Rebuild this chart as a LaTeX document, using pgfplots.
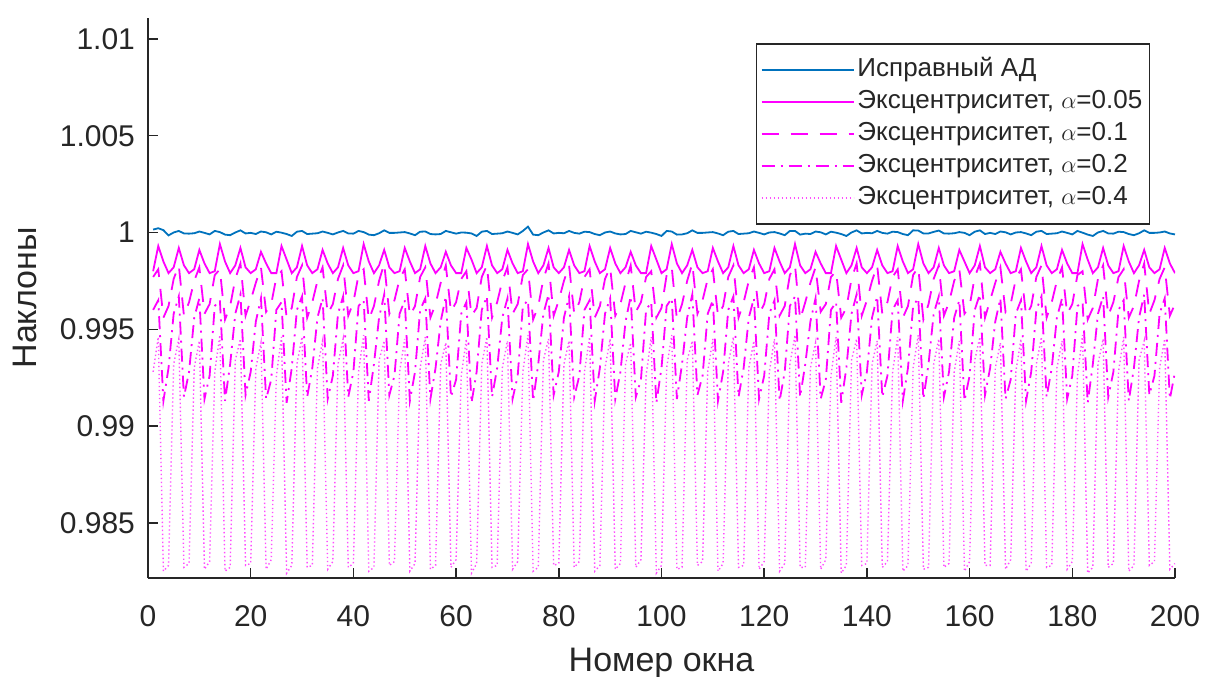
\documentclass[border=0pt]{standalone}
\usepackage{pgfplots}
\pgfplotsset{compat=1.18}
\usepackage{pgfplotstable}
\usepackage{fontspec}
\setmainfont{Liberation Sans}
\definecolor{mblue}{rgb}{0,0.447,0.741}
\definecolor{mmag}{rgb}{1,0,1}
\definecolor{mmagl}{rgb}{1,0.3,1}
\definecolor{axgray}{rgb}{0.15,0.15,0.15}

\pgfplotstableread{
x h a b c d
1 1.00015 0.9980 0.9977 0.9960 0.9928
2 1.00022 0.9993 0.9981 0.9965 0.9946
3 1.00012 0.9985 0.9956 0.9913 0.9825
4 0.99985 0.9979 0.9962 0.9930 0.9828
5 1.00000 0.9982 0.9976 0.9958 0.9932
6 1.00008 0.9992 0.9983 0.9967 0.9945
7 0.99995 0.9983 0.9957 0.9915 0.9827
8 0.99994 0.9979 0.9964 0.9928 0.9829
9 0.99996 0.9981 0.9975 0.9956 0.9930
10 1.00005 0.9991 0.9982 0.9966 0.9944
11 0.99998 0.9984 0.9958 0.9914 0.9826
12 0.99990 0.9979 0.9963 0.9926 0.9830
13 1.00008 0.9980 0.9978 0.9962 0.9928
14 1.00002 0.9994 0.9981 0.9965 0.9947
15 0.99989 0.9985 0.9955 0.9913 0.9825
16 0.99986 0.9979 0.9962 0.9932 0.9827
17 1.00000 0.9983 0.9976 0.9958 0.9934
18 1.00011 0.9992 0.9984 0.9968 0.9945
19 0.99995 0.9982 0.9957 0.9916 0.9828
20 0.99998 0.9979 0.9965 0.9928 0.9829
21 0.99992 0.9981 0.9974 0.9954 0.9930
22 1.00005 0.9990 0.9982 0.9966 0.9943
23 1.00001 0.9984 0.9959 0.9914 0.9826
24 0.99990 0.9979 0.9963 0.9924 0.9831
25 1.00004 0.9979 0.9977 0.9960 0.9926
26 0.99999 0.9993 0.9980 0.9964 0.9946
27 0.99992 0.9986 0.9956 0.9912 0.9824
28 0.99982 0.9979 0.9961 0.9930 0.9828
29 1.00004 0.9982 0.9977 0.9960 0.9932
30 1.00008 0.9993 0.9983 0.9967 0.9946
31 0.99992 0.9983 0.9956 0.9915 0.9827
32 0.99994 0.9979 0.9964 0.9930 0.9828
33 0.99996 0.9981 0.9975 0.9956 0.9930
34 1.00005 0.9991 0.9982 0.9966 0.9944
35 0.99998 0.9984 0.9958 0.9914 0.9826
36 0.99990 0.9979 0.9963 0.9926 0.9830
37 1.00000 0.9982 0.9976 0.9958 0.9932
38 1.00008 0.9992 0.9983 0.9967 0.9945
39 0.99995 0.9983 0.9957 0.9915 0.9827
40 0.99994 0.9979 0.9964 0.9928 0.9829
41 1.00008 0.9980 0.9978 0.9962 0.9928
42 1.00002 0.9994 0.9981 0.9965 0.9947
43 0.99989 0.9985 0.9955 0.9913 0.9825
44 0.99986 0.9979 0.9962 0.9932 0.9827
45 0.99996 0.9983 0.9975 0.9956 0.9934
46 1.00011 0.9991 0.9984 0.9968 0.9944
47 0.99998 0.9982 0.9958 0.9916 0.9828
48 0.99998 0.9979 0.9965 0.9926 0.9830
49 1.00000 0.9980 0.9976 0.9958 0.9928
50 1.00002 0.9992 0.9981 0.9965 0.9945
51 0.99995 0.9985 0.9957 0.9913 0.9825
52 0.99986 0.9979 0.9962 0.9928 0.9829
53 1.00004 0.9981 0.9977 0.9960 0.9930
54 1.00005 0.9993 0.9982 0.9966 0.9946
55 0.99992 0.9984 0.9956 0.9914 0.9826
56 0.99990 0.9979 0.9963 0.9930 0.9828
57 0.99992 0.9982 0.9974 0.9954 0.9932
58 1.00008 0.9990 0.9983 0.9967 0.9943
59 1.00001 0.9983 0.9959 0.9915 0.9827
60 0.99994 0.9979 0.9964 0.9924 0.9831
61 1.00000 0.9979 0.9976 0.9958 0.9926
62 0.99999 0.9992 0.9980 0.9964 0.9945
63 0.99995 0.9986 0.9957 0.9912 0.9824
64 0.99982 0.9979 0.9961 0.9928 0.9829
65 1.00004 0.9982 0.9977 0.9960 0.9932
66 1.00008 0.9993 0.9983 0.9967 0.9946
67 0.99992 0.9983 0.9956 0.9915 0.9827
68 0.99994 0.9979 0.9964 0.9930 0.9828
69 0.99996 0.9981 0.9975 0.9956 0.9930
70 1.00005 0.9991 0.9982 0.9966 0.9944
71 0.99998 0.9984 0.9958 0.9914 0.9826
72 0.99990 0.9979 0.9963 0.9926 0.9830
73 1.00008 0.9980 0.9978 0.9962 0.9928
74 1.00030 0.9994 0.9981 0.9965 0.9947
75 0.99989 0.9985 0.9955 0.9913 0.9825
76 0.99986 0.9979 0.9962 0.9932 0.9827
77 1.00000 0.9983 0.9976 0.9958 0.9934
78 1.00011 0.9992 0.9984 0.9968 0.9945
79 0.99995 0.9982 0.9957 0.9916 0.9828
80 0.99998 0.9979 0.9965 0.9928 0.9829
81 0.99996 0.9982 0.9975 0.9956 0.9932
82 1.00008 0.9991 0.9983 0.9967 0.9944
83 0.99998 0.9983 0.9958 0.9915 0.9827
84 0.99994 0.9979 0.9964 0.9926 0.9830
85 1.00004 0.9980 0.9977 0.9960 0.9928
86 1.00002 0.9993 0.9981 0.9965 0.9946
87 0.99992 0.9985 0.9956 0.9913 0.9825
88 0.99986 0.9979 0.9962 0.9930 0.9828
89 1.00000 0.9981 0.9976 0.9958 0.9930
90 1.00005 0.9992 0.9982 0.9966 0.9945
91 0.99995 0.9984 0.9957 0.9914 0.9826
92 0.99990 0.9979 0.9963 0.9928 0.9829
93 0.99992 0.9982 0.9974 0.9954 0.9932
94 1.00008 0.9990 0.9983 0.9967 0.9943
95 1.00001 0.9983 0.9959 0.9915 0.9827
96 0.99994 0.9979 0.9964 0.9924 0.9831
97 1.00004 0.9979 0.9977 0.9960 0.9926
98 0.99999 0.9993 0.9980 0.9964 0.9946
99 0.99992 0.9986 0.9956 0.9912 0.9824
100 0.99982 0.9979 0.9961 0.9930 0.9828
101 1.00008 0.9981 0.9978 0.9962 0.9930
102 1.00005 0.9994 0.9982 0.9966 0.9947
103 0.99989 0.9984 0.9955 0.9914 0.9826
104 0.99990 0.9979 0.9963 0.9932 0.9827
105 0.99996 0.9983 0.9975 0.9956 0.9934
106 1.00011 0.9991 0.9984 0.9968 0.9944
107 0.99998 0.9982 0.9958 0.9916 0.9828
108 0.99998 0.9979 0.9965 0.9926 0.9830
109 1.00000 0.9980 0.9976 0.9958 0.9928
110 1.00002 0.9992 0.9981 0.9965 0.9945
111 0.99995 0.9985 0.9957 0.9913 0.9825
112 0.99986 0.9979 0.9962 0.9928 0.9829
113 1.00004 0.9982 0.9977 0.9960 0.9932
114 1.00008 0.9993 0.9983 0.9967 0.9946
115 0.99992 0.9983 0.9956 0.9915 0.9827
116 0.99994 0.9979 0.9964 0.9930 0.9828
117 0.99996 0.9981 0.9975 0.9956 0.9930
118 1.00005 0.9991 0.9982 0.9966 0.9944
119 0.99998 0.9984 0.9958 0.9914 0.9826
120 0.99990 0.9979 0.9963 0.9926 0.9830
121 1.00000 0.9980 0.9976 0.9958 0.9928
122 1.00002 0.9992 0.9981 0.9965 0.9945
123 0.99995 0.9985 0.9957 0.9913 0.9825
124 0.99986 0.9979 0.9962 0.9928 0.9829
125 1.00008 0.9982 0.9978 0.9962 0.9932
126 1.00008 0.9994 0.9983 0.9967 0.9947
127 0.99989 0.9983 0.9955 0.9915 0.9827
128 0.99994 0.9979 0.9964 0.9932 0.9827
129 0.99992 0.9981 0.9974 0.9954 0.9930
130 1.00005 0.9990 0.9982 0.9966 0.9943
131 1.00001 0.9984 0.9959 0.9914 0.9826
132 0.99990 0.9979 0.9963 0.9924 0.9831
133 1.00004 0.9979 0.9977 0.9960 0.9926
134 0.99999 0.9993 0.9980 0.9964 0.9946
135 0.99992 0.9986 0.9956 0.9912 0.9824
136 0.99982 0.9979 0.9961 0.9930 0.9828
137 1.00000 0.9983 0.9976 0.9958 0.9934
138 1.00011 0.9992 0.9984 0.9968 0.9945
139 0.99995 0.9982 0.9957 0.9916 0.9828
140 0.99998 0.9979 0.9965 0.9928 0.9829
141 0.99996 0.9982 0.9975 0.9956 0.9932
142 1.00008 0.9991 0.9983 0.9967 0.9944
143 0.99998 0.9983 0.9958 0.9915 0.9827
144 0.99994 0.9979 0.9964 0.9926 0.9830
145 1.00004 0.9980 0.9977 0.9960 0.9928
146 1.00002 0.9993 0.9981 0.9965 0.9946
147 0.99992 0.9985 0.9956 0.9913 0.9825
148 0.99986 0.9979 0.9962 0.9930 0.9828
149 1.00011 0.9981 0.9978 0.9962 0.9930
150 1.00010 0.9994 0.9982 0.9966 0.9947
151 0.99995 0.9984 0.9955 0.9914 0.9826
152 0.99995 0.9979 0.9963 0.9932 0.9827
153 1.00003 0.9982 0.9976 0.9958 0.9932
154 1.00010 0.9992 0.9983 0.9967 0.9945
155 0.99995 0.9983 0.9957 0.9915 0.9827
156 0.99994 0.9979 0.9964 0.9928 0.9829
157 0.99996 0.9980 0.9975 0.9956 0.9928
158 1.00002 0.9991 0.9981 0.9965 0.9944
159 0.99998 0.9985 0.9958 0.9913 0.9825
160 0.99986 0.9979 0.9962 0.9926 0.9830
161 1.00004 0.9983 0.9977 0.9960 0.9934
162 1.00011 0.9993 0.9984 0.9968 0.9946
163 0.99992 0.9982 0.9956 0.9916 0.9828
164 0.99998 0.9979 0.9965 0.9930 0.9828
165 0.99992 0.9981 0.9974 0.9954 0.9930
166 1.00005 0.9990 0.9982 0.9966 0.9943
167 1.00001 0.9984 0.9959 0.9914 0.9826
168 0.99990 0.9979 0.9963 0.9924 0.9831
169 1.00000 0.9980 0.9976 0.9958 0.9928
170 1.00002 0.9992 0.9981 0.9965 0.9945
171 0.99995 0.9985 0.9957 0.9913 0.9825
172 0.99986 0.9979 0.9962 0.9928 0.9829
173 1.00004 0.9982 0.9977 0.9960 0.9932
174 1.00008 0.9993 0.9983 0.9967 0.9946
175 0.99992 0.9983 0.9956 0.9915 0.9827
176 0.99994 0.9979 0.9964 0.9930 0.9828
177 0.99996 0.9981 0.9975 0.9956 0.9930
178 1.00005 0.9991 0.9982 0.9966 0.9944
179 0.99998 0.9984 0.9958 0.9914 0.9826
180 0.99990 0.9979 0.9963 0.9926 0.9830
181 1.00008 0.9979 0.9978 0.9962 0.9926
182 0.99999 0.9994 0.9980 0.9964 0.9947
183 0.99989 0.9986 0.9955 0.9912 0.9824
184 0.99982 0.9979 0.9961 0.9932 0.9827
185 1.00000 0.9982 0.9976 0.9958 0.9932
186 1.00008 0.9992 0.9983 0.9967 0.9945
187 0.99995 0.9983 0.9957 0.9915 0.9827
188 0.99994 0.9979 0.9964 0.9928 0.9829
189 1.00004 0.9980 0.9977 0.9960 0.9928
190 1.00002 0.9993 0.9981 0.9965 0.9946
191 0.99992 0.9985 0.9956 0.9913 0.9825
192 0.99986 0.9979 0.9962 0.9930 0.9828
193 0.99996 0.9983 0.9975 0.9956 0.9934
194 1.00011 0.9991 0.9984 0.9968 0.9944
195 0.99998 0.9982 0.9958 0.9916 0.9828
196 0.99998 0.9979 0.9965 0.9926 0.9830
197 1.00000 0.9981 0.9976 0.9958 0.9930
198 1.00005 0.9992 0.9982 0.9966 0.9945
199 0.99995 0.9984 0.9957 0.9914 0.9826
200 0.99990 0.9979 0.9963 0.9928 0.9829
}\datatable

\begin{document}
\begin{tikzpicture}
\useasboundingbox (-74pt,-49pt) rectangle (528.5pt,289pt);
\begin{axis}[
  scale only axis,
  width=513.5pt, height=280pt,
  at={(0pt,0pt)}, anchor=south west,
  xmin=0, xmax=200, ymin=0.98215, ymax=1.01108,
  axis x line*=bottom, axis y line*=left,
  axis line style={draw=axgray, line width=0.75pt, -},
  tick align=inside, major tick length=5pt,
  tick style={draw=axgray, line width=0.75pt},
  xtick={0,20,40,60,80,100,120,140,160,180,200},
  xticklabels={0,20,40,60,80,100,120,140,160,180,200},
  ytick={0.985,0.99,0.995,1,1.005,1.01},
  yticklabels={0.985,0.99,0.995,1,1.005,1.01},
  ticklabel style={font=\fontsize{15}{18}\selectfont, text=axgray},
  xticklabel style={yshift=-10pt},
  yticklabel style={xshift=-3pt},
  xlabel={Номер окна}, ylabel={Наклоны},
  label style={font=\fontsize{17}{20}\selectfont, text=axgray},
  xlabel style={at={(axis description cs:0.5,-0.152)}, anchor=center},
  ylabel style={at={(axis description cs:-0.1198,0.5)}, anchor=center},
  legend cell align=left,
  legend style={at={(rel axis cs:1,1)}, anchor=north east, xshift=-12.5pt, yshift=-12.5pt,
    draw=axgray, line width=0.75pt, fill=white,
    font=\fontsize{13}{15}\selectfont, text=axgray,
    inner xsep=2pt, inner ysep=5pt, row sep=0pt,
    nodes={inner sep=1.5pt, text height=10pt, text depth=3pt}},
  legend image code/.code={\draw[line width=0.9pt,#1] (0pt,0pt) -- (46pt,0pt);},
]
\addplot[draw=mblue, line width=0.9pt] table[x=x, y=h] {\datatable};
\addlegendentry{Исправный АД}
\addplot[draw=mmag, line width=0.9pt] table[x=x, y=a] {\datatable};
\addlegendentry{Эксцентриситет, $\alpha$=0.05}
\addplot[draw=mmag, line width=0.9pt, dash pattern=on 8.5pt off 6pt] table[x=x, y=b] {\datatable};
\addlegendentry{Эксцентриситет, $\alpha$=0.1}
\addplot[draw=mmag, line width=0.9pt, dash pattern=on 6.5pt off 3pt on 1pt off 3pt] table[x=x, y=c] {\datatable};
\addlegendentry{Эксцентриситет, $\alpha$=0.2}
\addplot[draw=mmagl, line width=0.7pt, dash pattern=on 0.7pt off 1.3pt] table[x=x, y=d] {\datatable};
\addlegendentry{Эксцентриситет, $\alpha$=0.4}
\end{axis}
\end{tikzpicture}
\end{document}
